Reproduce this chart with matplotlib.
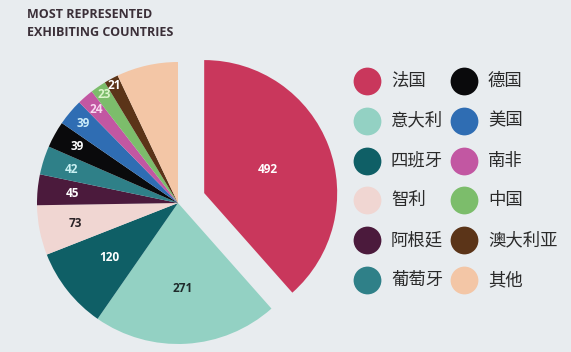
import math
import matplotlib.pyplot as plt

plt.rcParams['font.family'] = ['Noto Sans CJK SC', 'DejaVu Sans']

# data ("others")
countries = ['法国', '意大利', '四班牙', '智利', '阿根廷', '葡萄牙',
             '德国', '美国', '南非', '中国', '澳大利亚', '其他']
exhibitors = [492, 271, 120, 73, 45, 42, 39, 39, 24, 23, 21, 90]
value_labels = ['492', '271', '120', '73', '45', '42', '39', '39', '24', '23', '21', '']

colors = ['#c9375c', '#93d1c3', '#0f5f66', '#f0d6d2', '#4b1a3c', '#2f8088',
          '#0a0a0c', '#2f6db3', '#c257a2', '#7cbd6b', '#5b3418', '#f3c6a6']
label_colors = ['white', '#1f2b2b', 'white', '#2a2226', 'white', '#c8f0f2',
                'white', '#cdeefa', '#f8d8ef', '#dcf5cc', 'white', 'white']
label_dist = [0.51, 0.61, 0.62, 0.74, 0.75, 0.79, 0.82, 0.88, 0.88, 0.93, 0.95, 0.5]

bg = '#e8ecef'
W, H = 571, 352

fig = plt.figure(figsize=(W / 100, H / 100), dpi=100, facecolor=bg)
ax = fig.add_axes([0, 0, 1, 1])
ax.set_facecolor(bg)

cx, cy, r = 178, H - 203, 141
explode = [28] + [0] * (len(exhibitors) - 1)
wedges, _ = ax.pie(exhibitors, colors=colors, startangle=90, counterclock=False,
                   center=(cx, cy), radius=r, explode=explode,
                   wedgeprops=dict(linewidth=0))
wedges[0].set_radius(133)

for w, lab, lc, d in zip(wedges, value_labels, label_colors, label_dist):
    if not lab:
        continue
    tm = math.radians((w.theta1 + w.theta2) / 2)
    x = w.center[0] + d * w.r * math.cos(tm)
    y = w.center[1] + d * w.r * math.sin(tm)
    ax.text(x, y, lab, ha='center', va='center', color=lc, fontsize=8.5,
            fontweight='bold', family=['Open Sans', 'DejaVu Sans'])

ax.set_xlim(0, W)
ax.set_ylim(0, H)
ax.axis('off')

# legend, two columns
for i, (name, c) in enumerate(zip(countries, colors)):
    col, row = i // 6, i % 6
    x = 367 + 97 * col
    y = H - (81 + 39.8 * row)
    ax.scatter([x], [y], s=400, color=c, linewidths=0, zorder=3)
    ax.text(x + 24, y, name, ha='left', va='center', fontsize=12.5, color='#2a2a2a')

# title
title_kw = dict(ha='left', va='center', fontsize=9, fontweight='bold', color='#3b2f38',
                family=['Open Sans', 'DejaVu Sans'])
ax.text(27, H - 15, 'MOST REPRESENTED', **title_kw)
ax.text(27, H - 32, 'EXHIBITING COUNTRIES', **title_kw)

fig.savefig('out.png', dpi=100, facecolor=bg)
